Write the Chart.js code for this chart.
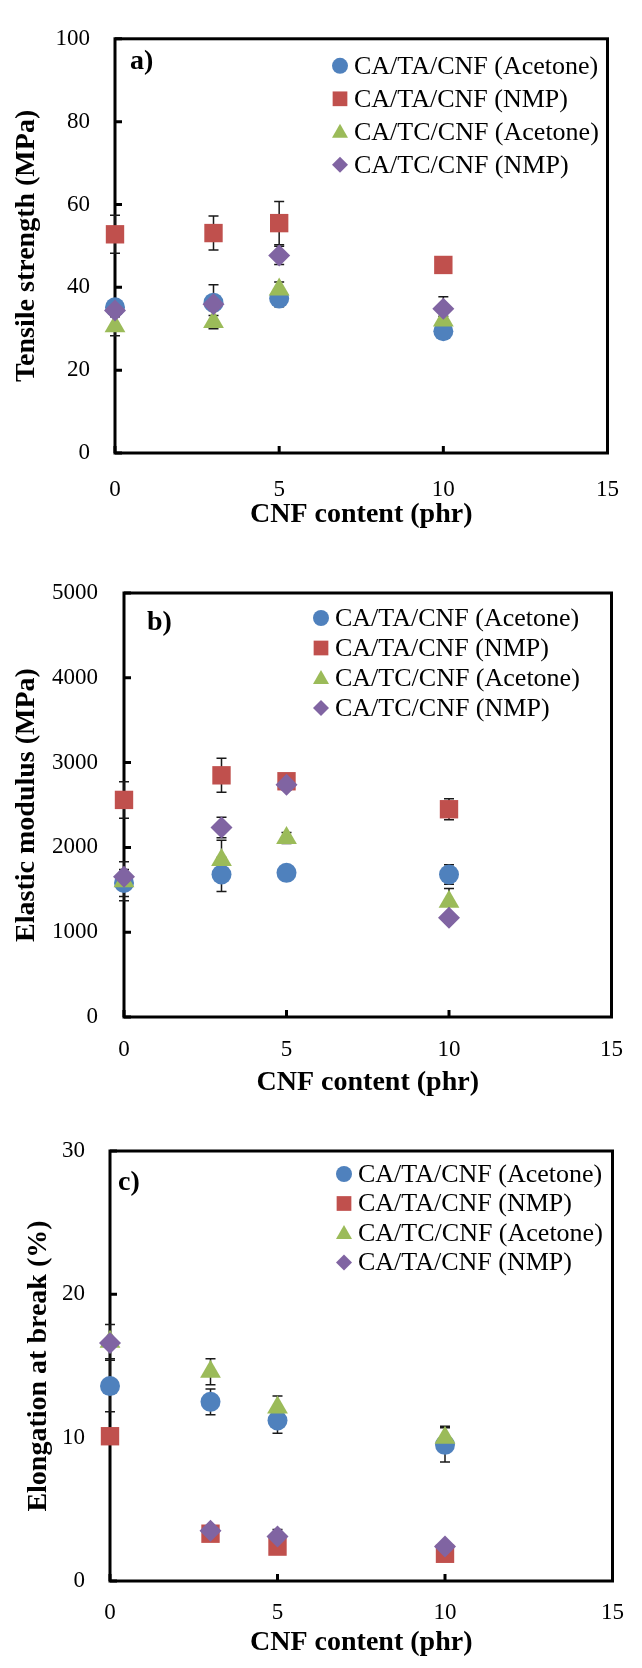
<!DOCTYPE html>
<html>
<head>
<meta charset="utf-8">
<script src="https://cdn.jsdelivr.net/npm/chart.js@4.4.1/dist/chart.umd.min.js"></script>
<style>
  body { margin: 0; background: #fff; }
  canvas { position: absolute; left: 0; }
</style>
</head>
<body>
<canvas id="graficoA" width="642" height="532" style="top:0px"></canvas>
<canvas id="graficoB" width="642" height="568" style="top:532px"></canvas>
<canvas id="graficoC" width="642" height="568" style="top:1100px"></canvas>
<script>
// data
const cnfContent = [0, 3, 5, 10];
const seriesNames = ['CA/TA/CNF (Acetone)', 'CA/TA/CNF (NMP)', 'CA/TC/CNF (Acetone)', 'CA/TC/CNF (NMP)'];
const seriesNamesC = ['CA/TA/CNF (Acetone)', 'CA/TA/CNF (NMP)', 'CA/TC/CNF (Acetone)', 'CA/TA/CNF (NMP)'];
const xTicks = [0, 5, 10, 15];

// a) tensile strength
const tsTaAcetone = [35.2, 36.3, 37.3, 29.4];
const tsTaNmp = [52.8, 53.1, 55.5, 45.4];
const tsTcAcetone = [30.6, 31.6, 39.5, 32.0];
const tsTcNmp = [34.4, 35.9, 47.7, 34.8];
const tsErrTaAcetone = [1.5, 4.3, 2.0, 1.0];
const tsErrTaNmp = [4.6, 4.1, 5.2, 1.0];
const tsErrTcAcetone = [2.3, 1.6, 1.8, 1.0];
const tsErrTcNmp = [1.0, 1.5, 2.2, 2.9];
const tsTicks = [0, 20, 40, 60, 80, 100];

// b) elastic modulus
const emTaAcetone = [1580, 1680, 1700, 1680];
const emTaNmp = [2560, 2850, 2780, 2450];
const emTcAcetone = [1600, 1850, 2110, 1360];
const emTcNmp = [1655, 2235, 2740, 1170];
const emErrTaAcetone = [160, 200, 40, 115];
const emErrTaNmp = [215, 200, 50, 125];
const emErrTcAcetone = [230, 235, 65, 155];
const emErrTcNmp = [60, 120, 60, 60];
const emTicks = [0, 1000, 2000, 3000, 4000, 5000];

// c) elongation at break
const elTaAcetone = [13.6, 12.5, 11.2, 9.5];
const elTaNmp = [10.1, 3.3, 2.4, 1.9];
const elTcAcetone = [16.7, 14.6, 12.1, 10.0];
const elTcNmp = [16.6, 3.5, 3.1, 2.4];
const elErrTaAcetone = [1.8, 0.9, 0.9, 1.2];
const elErrTaNmp = [0.3, 0.3, 0.3, 0.3];
const elErrTcAcetone = [1.2, 0.9, 0.8, 0.8];
const elErrTcNmp = [0.3, 0.3, 0.5, 0.3];
const elTicks = [0, 10, 20, 30];

// styles
const colors = ['#4F81BD', '#C0504D', '#9BBB59', '#8064A2'];
const shapes = ['circle', 'rect', 'triangle', 'rectRot'];
const sizes = [10, 13, 12, 11];
const serif = "'Liberation Serif', 'Times New Roman', 'DejaVu Serif', serif";

function buildDatasets(names, values, errors) {
  return names.map(function(name, i) {
    return {
      label: name,
      data: cnfContent.map(function(x, j) { return {x: x, y: values[i][j]}; }),
      errors: errors[i],
      pointStyle: shapes[i],
      pointRadius: sizes[i],
      pointHoverRadius: sizes[i],
      backgroundColor: colors[i],
      borderColor: colors[i],
      borderWidth: 0,
      order: 4 - i,
      clip: false
    };
  });
}

function drawMarker(ctx, style, x, y, r) {
  ctx.beginPath();
  if (style === 'circle') {
    ctx.arc(x, y, r, 0, Math.PI * 2);
  } else if (style === 'rect') {
    ctx.rect(x - r * 0.92, y - r * 0.92, r * 1.84, r * 1.84);
  } else if (style === 'triangle') {
    ctx.moveTo(x, y - r);
    ctx.lineTo(x + r, y + r * 0.75);
    ctx.lineTo(x - r, y + r * 0.75);
  } else {
    ctx.moveTo(x - r, y);
    ctx.lineTo(x, y - r);
    ctx.lineTo(x + r, y);
    ctx.lineTo(x, y + r);
  }
  ctx.closePath();
  ctx.fill();
}

// box, inner ticks, error bars (behind the markers)
const frame = {
  id: 'frame',
  beforeDatasetsDraw(chart) {
    const ctx = chart.ctx, a = chart.chartArea;
    const xs = chart.scales.x, ys = chart.scales.y;
    ctx.save();
    ctx.strokeStyle = '#000';
    ctx.lineWidth = 3;
    ctx.strokeRect(a.left, a.top, a.right - a.left, a.bottom - a.top);
    ctx.beginPath();
    ys.ticks.forEach(function(t) {
      const y = ys.getPixelForValue(t.value);
      ctx.moveTo(a.left, y); ctx.lineTo(a.left + 7, y);
    });
    xs.ticks.forEach(function(t) {
      const x = xs.getPixelForValue(t.value);
      ctx.moveTo(x, a.bottom); ctx.lineTo(x, a.bottom - 7);
    });
    ctx.stroke();

    ctx.strokeStyle = '#1a1a1a';
    ctx.lineWidth = 1.5;
    chart.data.datasets.forEach(function(ds) {
      ds.data.forEach(function(p, i) {
        const e = ds.errors[i];
        if (!e) return;
        const x = xs.getPixelForValue(p.x);
        const yTop = ys.getPixelForValue(p.y + e);
        const yBot = ys.getPixelForValue(p.y - e);
        ctx.beginPath();
        ctx.moveTo(x, yTop); ctx.lineTo(x, yBot);
        ctx.moveTo(x - 5, yTop); ctx.lineTo(x + 5, yTop);
        ctx.moveTo(x - 5, yBot); ctx.lineTo(x + 5, yBot);
        ctx.stroke();
      });
    });
    ctx.restore();
  },
  afterDatasetsDraw(chart, args, opts) {
    const ctx = chart.ctx, a = chart.chartArea;
    ctx.save();
    // panel letter
    ctx.fillStyle = '#000';
    ctx.font = 'bold 28px ' + serif;
    ctx.textAlign = 'left';
    ctx.textBaseline = 'middle';
    ctx.fillText(opts.panel, a.left + opts.panelX, a.top + opts.panelY);
    // legend
    ctx.font = '26px ' + serif;
    opts.names.forEach(function(name, i) {
      const mx = a.left + opts.legendX;
      const my = a.top + opts.legendY + i * opts.legendGap;
      ctx.fillStyle = colors[i];
      drawMarker(ctx, shapes[i], mx, my, 8);
      ctx.fillStyle = '#000';
      ctx.fillText(name, mx + 14, my + 1);
    });
    ctx.restore();
  }
};

function plainLabel(value) {
  return String(value);
}

function makeConfig(c) {
  return {
    type: 'scatter',
    data: { datasets: c.datasets },
    plugins: [frame],
    options: {
      responsive: false,
      animation: false,
      events: [],
      layout: { padding: { left: 0, top: c.top, right: c.right, bottom: c.bottom } },
      scales: {
        x: {
          type: 'linear',
          min: 0, max: 15,
          afterFit: function(s) { s.height = c.xHeight; },
          afterBuildTicks: function(s) { s.ticks = xTicks.map(function(v) { return {value: v}; }); },
          grid: { display: false, drawTicks: false },
          border: { display: false },
          ticks: { color: '#000', padding: c.xPad, maxRotation: 0, callback: plainLabel,
                   font: { family: serif, size: 23 } },
          title: { display: true, text: 'CNF content (phr)', color: '#000', padding: 0,
                   font: { family: serif, size: 28, weight: 'bold' } }
        },
        y: {
          type: 'linear',
          min: c.yTicks[0], max: c.yTicks[c.yTicks.length - 1],
          afterFit: function(s) { s.width = c.yWidth; },
          afterBuildTicks: function(s) { s.ticks = c.yTicks.map(function(v) { return {value: v}; }); },
          grid: { display: false, drawTicks: false },
          border: { display: false },
          ticks: { color: '#000', padding: c.yPad, callback: plainLabel,
                   font: { family: serif, size: 23 } },
          title: { display: true, text: c.yTitle, color: '#000', padding: { top: c.yTitlePad, bottom: 0 },
                   font: { family: serif, size: 28, weight: 'bold' } }
        }
      },
      plugins: {
        legend: { display: false },
        tooltip: { enabled: false },
        frame: c.frame
      }
    }
  };
}

// config
const configA = makeConfig({
  datasets: buildDatasets(seriesNames,
    [tsTaAcetone, tsTaNmp, tsTcAcetone, tsTcNmp],
    [tsErrTaAcetone, tsErrTaNmp, tsErrTcAcetone, tsErrTcNmp]),
  yTicks: tsTicks, yTitle: 'Tensile strength (MPa)',
  top: 28, right: 24, bottom: 0, xHeight: 79, yWidth: 115, xPad: 23, yPad: 25, yTitlePad: 10,
  frame: { panel: 'a)', panelX: 15, panelY: 23, names: seriesNames, legendX: 225, legendY: 27, legendGap: 33 }
});

const configB = makeConfig({
  datasets: buildDatasets(seriesNames,
    [emTaAcetone, emTaNmp, emTcAcetone, emTcNmp],
    [emErrTaAcetone, emErrTaNmp, emErrTcAcetone, emErrTcNmp]),
  yTicks: emTicks, yTitle: 'Elastic modulus (MPa)',
  top: 61, right: 22, bottom: 0, xHeight: 83, yWidth: 124, xPad: 19, yPad: 26, yTitlePad: 10,
  frame: { panel: 'b)', panelX: 23, panelY: 30, names: seriesNames, legendX: 197, legendY: 25, legendGap: 30 }
});

const configC = makeConfig({
  datasets: buildDatasets(seriesNamesC,
    [elTaAcetone, elTaNmp, elTcAcetone, elTcNmp],
    [elErrTaAcetone, elErrTaNmp, elErrTcAcetone, elErrTcNmp]),
  yTicks: elTicks, yTitle: 'Elongation at break (%)',
  top: 51, right: 15, bottom: 8, xHeight: 79, yWidth: 110, xPad: 18, yPad: 25, yTitlePad: 22,
  frame: { panel: 'c)', panelX: 8, panelY: 32, names: seriesNamesC, legendX: 234, legendY: 23, legendGap: 29.5 }
});

// render
var graficoA = new Chart(document.getElementById('graficoA'), configA);
var graficoB = new Chart(document.getElementById('graficoB'), configB);
var graficoC = new Chart(document.getElementById('graficoC'), configC);
</script>
</body>
</html>
